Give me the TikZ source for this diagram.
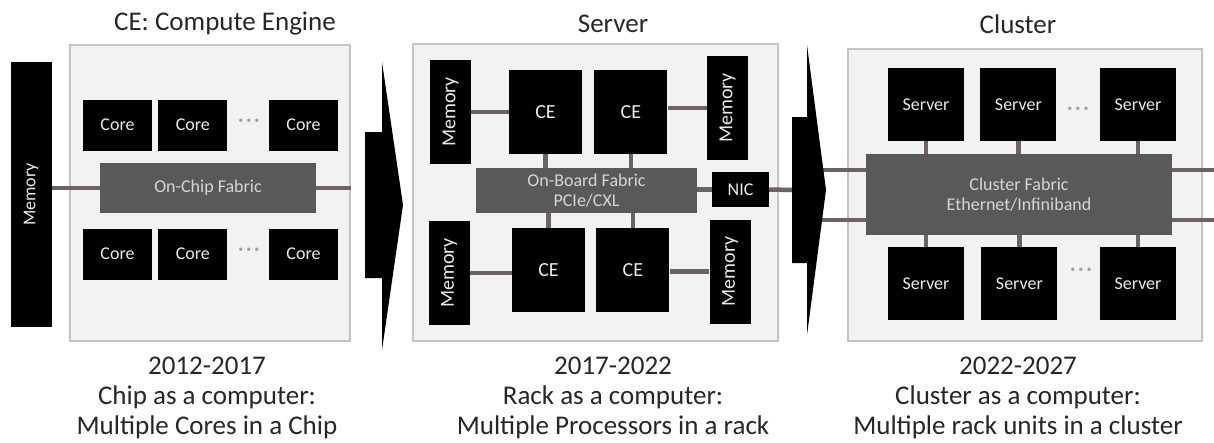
\documentclass[tikz,border=0pt]{standalone}
\usepackage{fontspec}
\setmainfont{Carlito}
\usepackage{graphicx}
\usepackage{xcolor}
\usepackage{tikz}
\usetikzlibrary{positioning}
\definecolor{panelgray}{HTML}{F2F2F2}
\definecolor{framegray}{HTML}{C4C4C4}
\definecolor{fabricgray}{HTML}{595959}
\definecolor{fabrictext}{HTML}{D6D6D6}
\definecolor{linkgray}{HTML}{6E6264}
\definecolor{titlegray}{HTML}{262626}
\definecolor{dotgray}{HTML}{A0A0A0}

\begin{document}
\begin{tikzpicture}[
    x=1pt, y=-1pt,
    panel/.style={draw=framegray, line width=1.5pt, fill=panelgray, inner sep=0pt},
    unit/.style={fill=black, text=white!92!black, inner sep=0pt, font=\fontsize{18}{20}\selectfont},
    core/.style={unit, minimum width=69pt, minimum height=51pt},
    ce/.style={unit, minimum width=73pt, minimum height=84pt, font=\fontsize{20}{22}\selectfont},
    server/.style={unit, minimum width=76pt, minimum height=73pt},
    mem/.style={unit, minimum width=41pt, minimum height=104pt, font=\fontsize{20}{22}\selectfont},
    fabric/.style={fill=fabricgray, text=fabrictext, align=center, inner sep=0pt, font=\fontsize{18}{20}\selectfont},
    link/.style={draw=linkgray, line width=4.5pt},
    chevron/.style={fill=black},
    dots/.style={text=dotgray, inner sep=0pt, font=\fontsize{24}{24}\selectfont},
    title/.style={text=titlegray, font=\fontsize{27}{31}\selectfont},
    caption/.style={text=titlegray, align=center, font=\fontsize{27}{30}\selectfont}
]
    \useasboundingbox (0,0) rectangle (1214,442);

    % compute engine
    \node[panel, minimum width=280pt, minimum height=296pt] (cebox) at (210,193) {};
    \node[title] (cetitle) at (225,24) {CE: Compute Engine};
    \node[mem, minimum height=265pt, font=\fontsize{18}{20}\selectfont] (cemem) at (31,194.5) {\rotatebox{90}{Memory}};
    \node[core] (core1) at (117.5,125) {Core};
    \node[core, right=6pt of core1] (core2) {Core};
    \node[core] (core3) at (303.5,125) {Core};
    \node[dots] (cedots1) at (249,123) {\textperiodcentered\hspace{2pt}\textperiodcentered\hspace{2pt}\textperiodcentered};
    \node[fabric, minimum width=216pt, minimum height=50pt] (chipfab) at (208,188) {On-Chip Fabric};
    \node[core] (core4) at (117.5,254) {Core};
    \node[core, right=6pt of core4] (core5) {Core};
    \node[core] (core6) at (303.5,254) {Core};
    \node[dots] (cedots2) at (249,252) {\textperiodcentered\hspace{2pt}\textperiodcentered\hspace{2pt}\textperiodcentered};

    \draw[link] (chipfab.west) -- (chipfab.west -| cemem.east);
    \draw[link] (chipfab.east) -- (chipfab.east -| cebox.east);

    \fill[chevron] (365,132) -- (382,132) -- (382,62) -- (403,205) -- (382,350) -- (382,278) -- (365,278) -- cycle;

    % server
    \node[panel, minimum width=365pt, minimum height=297pt] (srvbox) at (595.5,192.5) {};
    \node[title] (srvtitle) at (613,24) {Server};
    \node[mem] (memtl) at (450.5,112) {\rotatebox{90}{Memory}};
    \node[ce] (cetl) at (545.5,112) {CE};
    \node[ce, right=12pt of cetl] (cetr) {CE};
    \node[mem] (memtr) at (727.5,108) {\rotatebox{90}{Memory}};
    \node[fabric, minimum width=221pt, minimum height=45pt] (boardfab) at (586.5,190.5) {On-Board Fabric\\PCIe/CXL};
    \node[unit, minimum width=57pt, minimum height=35pt] (nic) at (740.5,189.5) {NIC};
    \node[mem] (membl) at (449,273) {\rotatebox{90}{Memory}};
    \node[ce] (cebl) at (548.5,270) {CE};
    \node[ce, right=11pt of cebl] (cebr) {CE};
    \node[mem] (membr) at (730,271.5) {\rotatebox{90}{Memory}};
    \coordinate (arrowtail) at (794,190);

    \draw[link] (memtl.east) -- (memtl.east -| cetl.west);
    \draw[link] (memtr.west) -- (memtr.west -| cetr.east);
    \draw[link] (cetl.south) -- (cetl.south |- boardfab.north);
    \draw[link] (cetr.south) -- (cetr.south |- boardfab.north);
    \draw[link] (cebl.north) -- (cebl.north |- boardfab.south);
    \draw[link] (cebr.north) -- (cebr.north |- boardfab.south);
    \draw[link] (membl.east) -- (membl.east -| cebl.west);
    \draw[link] (membr.west) -- (membr.west -| cebr.east);
    \draw[link] (nic.west) -- (nic.west -| boardfab.east);
    \draw[link] (nic.east) -- (arrowtail);

    % cluster
    \node[panel, minimum width=354pt, minimum height=292pt] (clubox) at (1025,195) {};
    \node[title] (clutitle) at (1018,24) {Cluster};
    \node[server] (srv1) at (926,104.5) {Server};
    \node[server, right=16pt of srv1] (srv2) {Server};
    \node[server] (srv3) at (1138,104.5) {Server};
    \node[dots] (cludots1) at (1078,111) {\textperiodcentered\hspace{2pt}\textperiodcentered\hspace{2pt}\textperiodcentered};
    \node[fabric, minimum width=306pt, minimum height=81pt] (clufab) at (1019,194.5) {Cluster Fabric\\Ethernet/Infiniband};
    \node[server] (srv4) at (926,283.5) {Server};
    \node[server, right=17pt of srv4] (srv5) {Server};
    \node[server] (srv6) at (1138,283.5) {Server};
    \node[dots] (cludots2) at (1081,272) {\textperiodcentered\hspace{2pt}\textperiodcentered\hspace{2pt}\textperiodcentered};
    \coordinate (arrowhead1) at (815,170);
    \coordinate (arrowhead2) at (815,220);
    \coordinate (exit1) at (1214,170);
    \coordinate (exit2) at (1214,220);

    \draw[link] (srv1.south) -- (srv1.south |- clufab.north);
    \draw[link] (srv2.south) -- (srv2.south |- clufab.north);
    \draw[link] (srv3.south) -- (srv3.south |- clufab.north);
    \draw[link] (srv4.north) -- (srv4.north |- clufab.south);
    \draw[link] (srv5.north) -- (srv5.north |- clufab.south);
    \draw[link] (srv6.north) -- (srv6.north |- clufab.south);
    \draw[link] (arrowhead1) -- (arrowhead1 -| clufab.west);
    \draw[link] (arrowhead2) -- (arrowhead2 -| clufab.west);
    \draw[link] (exit1 -| clufab.east) -- (exit1);
    \draw[link] (exit2 -| clufab.east) -- (exit2);

    \fill[chevron] (792,117) -- (807,117) -- (807,45) -- (826,190) -- (807,335) -- (807,263) -- (792,263) -- cycle;

    % captions
    \node[caption] (cecap) at (207,398) {2012-2017\\Chip as a computer:\\Multiple Cores in a Chip};
    \node[caption] (srvcap) at (613,398) {2017-2022\\Rack as a computer:\\Multiple Processors in a rack};
    \node[caption] (clucap) at (1018,398) {2022-2027\\Cluster as a computer:\\Multiple rack units in a cluster};
\end{tikzpicture}
\end{document}
